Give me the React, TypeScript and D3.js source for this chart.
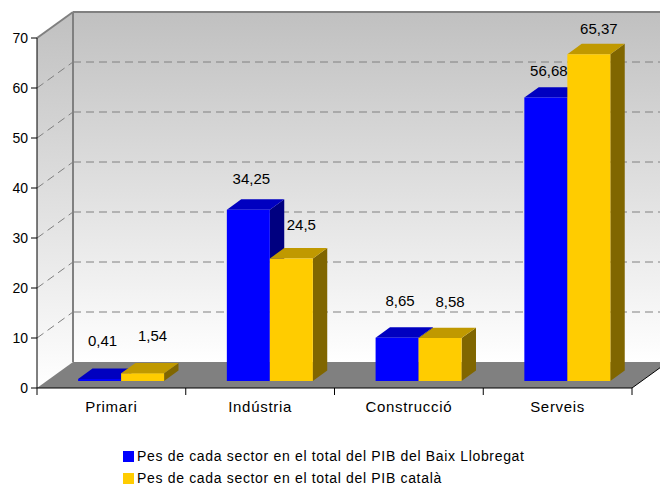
import * as d3 from 'd3';

const categories = ['Primari', 'Indústria', 'Construcció', 'Serveis'];
const baixLlobregat = [0.41, 34.25, 8.65, 56.68];
const catala = [1.54, 24.5, 8.58, 65.37];
const seriesNames = [
  'Pes de cada sector en el total del PIB del Baix Llobregat',
  'Pes de cada sector en el total del PIB català',
];
const yTicks = [0, 10, 20, 30, 40, 50, 60, 70];

const width = 660;
const height = 485;
const font = 'Liberation Sans, Arial, sans-serif';

// 3d box look
const depthX = 36;
const depthY = -26;
const barZ0 = 0.27;
const barZ1 = 0.67;

const colors = [
  { front: '#0000ff', top: '#0000c0', side: '#000080' },
  { front: '#ffcc00', top: '#c09900', side: '#806600' },
];
// excel nudges the labels a bit to the right
const labelDx = [3, 10];

const fmt = (v: number) => String(v).replace('.', ',');

const App = () => {
  const x = d3.scaleBand<string>().domain(categories).range([37, 632]);
  const y = d3.scaleLinear().domain([0, 70]).range([388, 38]);
  const labelY = d3.scaleLinear().domain([0, 70]).range([348, 12]);

  const p = (px: number, v: number, z: number) => [px + depthX * z, y(v) + depthY * z];
  const poly = (pts: number[][]) => pts.map(d => d.join(',')).join(' ');

  const x0 = x.range()[0];
  const x1 = x.range()[1];
  const barW = 43;

  const series = [baixLlobregat, catala];

  return (
    <svg width={width} height={height} style={{ position: 'absolute', left: 0, top: 0, background: '#fff' }}>
      <defs>
        <linearGradient id="wall" x1="0" y1="0" x2="0" y2="1">
          <stop offset="0" stopColor="#c0c0c0" />
          <stop offset="1" stopColor="#ffffff" />
        </linearGradient>
      </defs>

      {/* walls */}
      <polygon points={poly([p(x0, 0, 1), p(x0, 70, 1), p(x1, 70, 1), p(x1, 0, 1)])} fill="url(#wall)" />
      <polygon points={poly([p(x0, 0, 0), p(x0, 70, 0), p(x0, 70, 1), p(x0, 0, 1)])} fill="url(#wall)" />
      <polygon points={poly([p(x0, 0, 0), p(x1, 0, 0), p(x1, 0, 1), p(x0, 0, 1)])} fill="#808080" />
      <line x1={p(x1, 0, 0)[0]} y1={p(x1, 0, 0)[1]} x2={p(x1, 0, 1)[0]} y2={p(x1, 0, 1)[1]} stroke="#000" />

      {/* gridlines */}
      {yTicks.filter(t => t > 0 && t < 70).map(t => (
        <g key={t} stroke="#808080" strokeDasharray="8,5" fill="none">
          <line x1={p(x0, t, 1)[0]} y1={p(x0, t, 1)[1]} x2={p(x1, t, 1)[0]} y2={p(x1, t, 1)[1]} />
          <line x1={p(x0, t, 0)[0]} y1={p(x0, t, 0)[1]} x2={p(x0, t, 1)[0]} y2={p(x0, t, 1)[1]} />
        </g>
      ))}

      {/* wall edges */}
      <line x1={p(x0, 0, 1)[0]} y1={p(x0, 0, 1)[1]} x2={p(x0, 70, 1)[0]} y2={p(x0, 70, 1)[1]} stroke="#808080" strokeWidth={2} />
      <line x1={p(x0, 70, 1)[0]} y1={p(x0, 70, 1)[1]} x2={p(x1, 70, 1)[0]} y2={p(x1, 70, 1)[1]} stroke="#808080" strokeWidth={2} />
      <line x1={p(x0, 70, 0)[0]} y1={p(x0, 70, 0)[1]} x2={p(x0, 70, 1)[0]} y2={p(x0, 70, 1)[1]} stroke="#808080" strokeWidth={2} />

      {/* bars */}
      {categories.map((c, i) => {
        const cx = x(c)! + x.bandwidth() / 2;
        return series.map((s, si) => {
          const v = s[i];
          const bx0 = cx - barW + si * barW;
          const bx1 = bx0 + barW;
          const col = colors[si];
          const front = [p(bx0, 0, barZ0), p(bx0, v, barZ0), p(bx1, v, barZ0), p(bx1, 0, barZ0)];
          const top = [p(bx0, v, barZ0), p(bx0, v, barZ1), p(bx1, v, barZ1), p(bx1, v, barZ0)];
          const side = [p(bx1, 0, barZ0), p(bx1, v, barZ0), p(bx1, v, barZ1), p(bx1, 0, barZ1)];
          return (
            <g key={c + si}>
              <polygon points={poly(side)} fill={col.side} />
              <polygon points={poly(top)} fill={col.top} />
              <polygon points={poly(front)} fill={col.front} />
            </g>
          );
        });
      })}

      {/* value labels */}
      {categories.map((c, i) => {
        const cx = x(c)! + x.bandwidth() / 2;
        return series.map((s, si) => {
          const bx = cx - barW / 2 + si * barW + depthX * barZ0 + labelDx[si];
          return (
            <text key={c + si} x={bx} y={labelY(s[i])} textAnchor="middle" fontFamily={font} fontSize={15} fill="#000">
              {fmt(s[i])}
            </text>
          );
        });
      })}

      {/* value axis */}
      <line x1={x0} y1={y(0)} x2={x0} y2={y(70)} stroke="#000" />
      {yTicks.map(t => (
        <g key={t}>
          <line x1={x0 - 6} x2={x0} y1={y(t)} y2={y(t)} stroke="#000" />
          <text x={x0 - 9} y={y(t) + 5} textAnchor="end" fontFamily={font} fontSize={14} fill="#000">
            {t}
          </text>
        </g>
      ))}

      {/* category axis */}
      <line x1={x0} y1={y(0)} x2={x1} y2={y(0)} stroke="#000" />
      {[...categories.map(c => x(c)!), x1].map((tx, i) => (
        <line key={i} x1={tx} x2={tx} y1={y(0)} y2={y(0) + 7} stroke="#000" />
      ))}
      {categories.map(c => (
        <text key={c} x={x(c)! + x.bandwidth() / 2} y={412} textAnchor="middle" fontFamily={font} fontSize={15} letterSpacing={0.7} fill="#000">
          {c}
        </text>
      ))}

      {/* legend */}
      {seriesNames.map((n, i) => (
        <g key={n} transform={`translate(123, ${451 + i * 22})`}>
          <rect width={11} height={11} fill={colors[i].front} />
          <text x={14} y={10} fontFamily={font} fontSize={14} letterSpacing={0.67} fill="#000">
            {n}
          </text>
        </g>
      ))}
    </svg>
  );
};

export default App;
